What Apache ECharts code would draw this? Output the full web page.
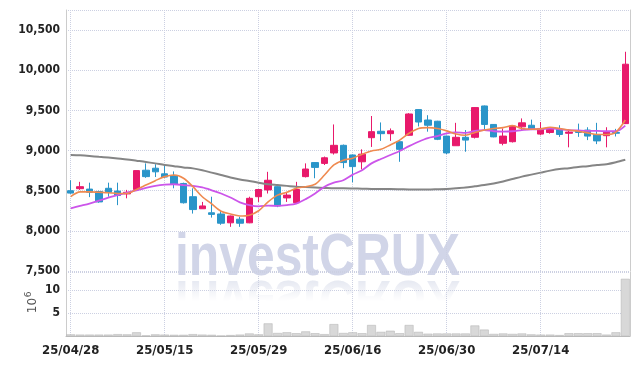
<!DOCTYPE html>
<html>
<head>
<meta charset="utf-8">
<script src="https://cdn.jsdelivr.net/npm/echarts@6/dist/echarts.min.js"></script>
<style>
    html, body { margin: 0; padding: 0; background: #fff; }
    #chart { width: 639px; height: 366px; }
</style>
</head>
<body>
<div id="chart"></div>
<script>
var dates = ['25/04/28', '25/04/29', '25/04/30', '25/05/02', '25/05/07', '25/05/08', '25/05/09', '25/05/12', '25/05/13', '25/05/14',
    '25/05/15', '25/05/16', '25/05/19', '25/05/20', '25/05/21', '25/05/22', '25/05/23', '25/05/26', '25/05/27', '25/05/28',
    '25/05/29', '25/05/30', '25/06/02', '25/06/04', '25/06/05', '25/06/09', '25/06/10', '25/06/11', '25/06/12', '25/06/13',
    '25/06/16', '25/06/17', '25/06/18', '25/06/19', '25/06/20', '25/06/23', '25/06/24', '25/06/25', '25/06/26', '25/06/27',
    '25/06/30', '25/07/01', '25/07/02', '25/07/03', '25/07/04', '25/07/07', '25/07/08', '25/07/09', '25/07/10', '25/07/11',
    '25/07/14', '25/07/15', '25/07/16', '25/07/17', '25/07/18', '25/07/21', '25/07/22', '25/07/23', '25/07/24', '25/07/25'];

var opens = [8500, 8525, 8520, 8490, 8530, 8495, 8460, 8515, 8755, 8780,
    8710, 8690, 8590, 8425, 8275, 8225, 8210, 8100, 8145, 8100,
    8425, 8510, 8550, 8410, 8350, 8675, 8850, 8840, 8970, 9065,
    8945, 8860, 9160, 9240, 9210, 9110, 9190, 9510, 9380, 9365,
    9180, 9060, 9165, 9165, 9555, 9325, 9090, 9110, 9295, 9315,
    9205, 9225, 9265, 9215, 9240, 9255, 9200, 9185, 9225, 9335];
var closes = [8470, 8550, 8480, 8360, 8480, 8440, 8480, 8750, 8675, 8735,
    8670, 8580, 8350, 8265, 8310, 8205, 8095, 8185, 8095, 8405,
    8515, 8630, 8310, 8445, 8515, 8770, 8790, 8910, 9065, 8850,
    8800, 8955, 9235, 9210, 9245, 9015, 9455, 9355, 9315, 9140,
    8970, 9165, 9130, 9535, 9325, 9170, 9180, 9305, 9345, 9265,
    9275, 9265, 9200, 9230, 9225, 9180, 9120, 9230, 9215, 10075];
var lows = [8460, 8510, 8420, 8350, 8425, 8320, 8405, 8510, 8660, 8670,
    8660, 8530, 8340, 8215, 8275, 8165, 8075, 8050, 8050, 8095,
    8360, 8465, 8295, 8360, 8340, 8665, 8655, 8820, 8950, 8780,
    8605, 8765, 9045, 9120, 9120, 8860, 9185, 9300, 9235, 9130,
    8955, 9060, 8985, 9150, 9255, 9165, 9065, 9100, 9255, 9255,
    9190, 9210, 9170, 9040, 9170, 9130, 9080, 9040, 9175, 9330];
var highs = [8630, 8610, 8600, 8500, 8600, 8600, 8510, 8750, 8840, 8830,
    8820, 8740, 8600, 8530, 8360, 8425, 8260, 8190, 8175, 8425,
    8520, 8735, 8555, 8485, 8610, 8840, 8855, 8925, 9325, 9075,
    8950, 9015, 9430, 9350, 9275, 9115, 9465, 9515, 9440, 9370,
    9185, 9345, 9255, 9540, 9560, 9330, 9275, 9310, 9400, 9385,
    9355, 9280, 9315, 9265, 9335, 9290, 9345, 9290, 9270, 10230];

var ma5 = [8425, 8485, 8485, 8480, 8475, 8465, 8465, 8515, 8570, 8625,
    8675, 8695, 8655, 8550, 8425, 8335, 8245, 8210, 8185, 8195,
    8250, 8360, 8445, 8480, 8530, 8550, 8580, 8695, 8820, 8880,
    8905, 8955, 8995, 9015, 9070, 9130, 9215, 9275, 9285, 9275,
    9245, 9205, 9190, 9225, 9255, 9275, 9285, 9310, 9275, 9265,
    9270, 9290, 9275, 9255, 9240, 9220, 9200, 9200, 9230, 9380];
var ma20 = [8280, 8310, 8340, 8375, 8415, 8445, 8475, 8505, 8535, 8560,
    8575, 8580, 8570, 8560, 8540, 8505, 8465, 8415, 8355, 8320,
    8305, 8315, 8310, 8320, 8340, 8395, 8465, 8550, 8600, 8630,
    8700, 8755, 8840, 8895, 8945, 8995, 9055, 9110, 9155, 9180,
    9215, 9225, 9220, 9245, 9255, 9240, 9235, 9240, 9255, 9265,
    9265, 9275, 9265, 9255, 9250, 9245, 9245, 9240, 9240, 9310];
var ma60 = [8945, 8940, 8932, 8922, 8912, 8900, 8888, 8873, 8858, 8840,
    8820, 8805, 8790, 8778, 8755, 8725, 8695, 8665, 8640, 8620,
    8600, 8580, 8570, 8560, 8550, 8545, 8540, 8535, 8530, 8530,
    8528, 8525, 8522, 8520, 8520, 8518, 8515, 8515, 8515, 8518,
    8522, 8530, 8540, 8555, 8570, 8590, 8615, 8645, 8675, 8700,
    8725, 8750, 8770, 8780, 8795, 8805, 8820, 8830, 8855, 8885];

// volume in millions of shares
var volumes = [0.35, 0.3, 0.3, 0.3, 0.3, 0.4, 0.35, 0.8, 0.1, 0.35,
    0.3, 0.25, 0.25, 0.4, 0.3, 0.25, 0.05, 0.2, 0.3, 0.55,
    0.35, 2.75, 0.65, 0.8, 0.6, 1.0, 0.6, 0.4, 2.6, 0.65,
    0.8, 0.6, 2.4, 0.9, 1.15, 0.6, 2.4, 0.9, 0.5, 0.55,
    0.55, 0.55, 0.55, 2.3, 1.4, 0.45, 0.55, 0.45, 0.55, 0.35,
    0.3, 0.3, 0.2, 0.6, 0.6, 0.6, 0.6, 0.3, 0.8, 12.5];

var priceTicks = [7500, 8000, 8500, 9000, 9500, 10000, 10500];
var volumeTicks = [5, 10];

var candleData = [];
for (var i = 0; i < dates.length; i++) {
    candleData.push([opens[i], closes[i], lows[i], highs[i]]);
}

var labelFont = '"DejaVu Sans Condensed", "DejaVu Sans", sans-serif';
var gridLineColor = '#ccd0e2';
var wmFont = 'bold 60px "Liberation Sans", sans-serif';

var myChart = echarts.init(document.getElementById('chart'));
var option = {
    animation: false,
    backgroundColor: '#fff',
    grid: [
        {left: 66, right: 9, top: 10, height: 261},
        {left: 66, right: 9, top: 272, height: 64}
    ],
    graphic: [
        //水印
        {
            type: 'text', x: 175, y: 258, scaleX: 0.83, z: -2,
            style: {text: 'investCRUX', font: wmFont, fill: '#d1d5e8', verticalAlign: 'middle'}
        },
        {
            type: 'text', x: 175, y: 278, scaleX: 0.83, scaleY: -1, z: -2,
            style: {text: 'investCRUX', font: wmFont, fill: '#e3e6f0', y: -20, verticalAlign: 'middle'}
        },
        {
            type: 'rect', z: -1,
            shape: {x: 170, y: 278, width: 300, height: 46},
            style: {
                fill: new echarts.graphic.LinearGradient(0, 0, 0, 1, [
                    {offset: 0, color: 'rgba(255,255,255,0)'},
                    {offset: 0.5, color: 'rgba(255,255,255,1)'},
                    {offset: 1, color: 'rgba(255,255,255,1)'}
                ])
            }
        },
        {
            type: 'text', x: 32.5, y: 305.5, rotation: Math.PI / 2,
            style: {text: '10', font: '12px "DejaVu Sans", sans-serif', fill: '#555', align: 'center', verticalAlign: 'middle'}
        },
        {
            type: 'text', x: 29, y: 294.5, rotation: Math.PI / 2,
            style: {text: '6', font: '9px "DejaVu Sans", sans-serif', fill: '#555', align: 'center', verticalAlign: 'middle'}
        }
    ],
    xAxis: [
        {
            type: 'category', gridIndex: 0, data: dates,
            axisLine: {show: false}, axisTick: {show: false}, axisLabel: {show: false},
            splitLine: {show: true, interval: 9, alignWithLabel: true, lineStyle: {color: gridLineColor, type: 'dotted'}}
        },
        {
            type: 'category', gridIndex: 1, data: dates,
            axisLine: {lineStyle: {color: '#bbb'}}, axisTick: {show: false},
            axisLabel: {interval: 9, margin: 8, color: '#222', fontWeight: 'bold', fontSize: 13, fontFamily: labelFont},
            splitLine: {show: true, interval: 9, alignWithLabel: true, lineStyle: {color: gridLineColor, type: 'dotted'}}
        }
    ],
    yAxis: [
        {
            type: 'value', gridIndex: 0, min: priceTicks[0], max: 10750, interval: 500,
            axisLine: {show: true, lineStyle: {color: '#ccc'}}, axisTick: {show: false},
            axisLabel: {
                margin: 6, color: '#222', fontWeight: 'bold', fontSize: 12, fontFamily: labelFont,
                formatter: function (v) {
                    return priceTicks.indexOf(v) >= 0 ? v.toLocaleString('en-US') : '';
                }
            },
            splitLine: {lineStyle: {color: gridLineColor, type: 'dotted'}}
        },
        {
            type: 'value', gridIndex: 1, min: 0, max: 14, interval: 5,
            axisLine: {show: true, lineStyle: {color: '#ccc'}}, axisTick: {show: false},
            axisLabel: {
                margin: 6, color: '#222', fontWeight: 'bold', fontSize: 12, fontFamily: labelFont,
                formatter: function (v) {
                    return volumeTicks.indexOf(v) >= 0 ? String(v) : '';
                }
            },
            splitLine: {lineStyle: {color: gridLineColor, type: 'dotted'}}
        },
        {
            type: 'value', gridIndex: 0, position: 'right', min: 7500, max: 10750,
            axisLine: {show: true, lineStyle: {color: '#ccc'}}, axisTick: {show: false},
            axisLabel: {show: false}, splitLine: {show: false}
        },
        {
            type: 'value', gridIndex: 1, position: 'right', min: 0, max: 14,
            axisLine: {show: true, lineStyle: {color: '#ccc'}}, axisTick: {show: false},
            axisLabel: {show: false}, splitLine: {show: false}
        }
    ],
    series: [
        {
            name: 'price', type: 'candlestick', xAxisIndex: 0, yAxisIndex: 0, z: 3,
            barWidth: 7,
            data: candleData,
            itemStyle: {
                color: '#e8196b', borderColor: '#e8196b',
                color0: '#2a95c9', borderColor0: '#2a95c9', borderWidth: 1
            }
        },
        {
            name: 'MA60', type: 'line', xAxisIndex: 0, yAxisIndex: 0, z: 4, data: ma60,
            smooth: 0.3, symbol: 'none', lineStyle: {color: '#858585', width: 2}
        },
        {
            name: 'MA20', type: 'line', xAxisIndex: 0, yAxisIndex: 0, z: 4, data: ma20,
            smooth: 0.3, symbol: 'none', lineStyle: {color: '#cc55ea', width: 1.8}
        },
        {
            name: 'MA5', type: 'line', xAxisIndex: 0, yAxisIndex: 0, z: 4, data: ma5,
            smooth: 0.3, symbol: 'none', lineStyle: {color: '#ef8a50', width: 1.6}
        },
        {
            name: 'volume', type: 'bar', xAxisIndex: 1, yAxisIndex: 1, z: 3, data: volumes,
            barCategoryGap: '6%',
            itemStyle: {color: '#d8d8d8', borderColor: '#b0b0b0', borderWidth: 0.5}
        }
    ]
};
myChart.setOption(option, true);
</script>
</body>
</html>
